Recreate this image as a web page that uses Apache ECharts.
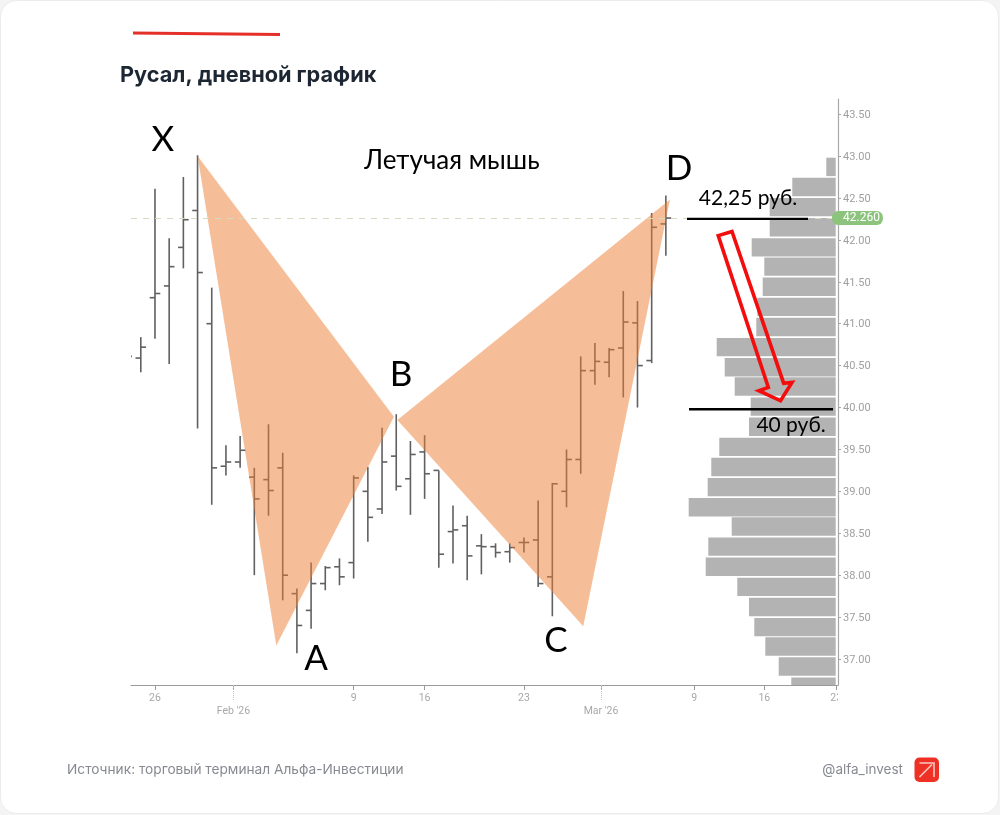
<!DOCTYPE html>
<html><head><meta charset="utf-8">
<style>html,body{margin:0;padding:0;background:#fff}#c{width:1000px;height:815px}</style>
<script src="https://cdn.jsdelivr.net/npm/echarts@6/dist/echarts.min.js"></script>
</head><body><div id="c"></div>
<script>
// x = trading-session index, Jan 26 = 0
const barIndex = [-2,-1,0,1,2,3,4,5,6,7,8,9,10,11,12,13,14,15,16,17,18,19,20,21,22,23,24,25,26,27,28,29,30,31,32,33,34,35,36];
const opens  = [40.61,40.59,41.31,41.45,41.91,42.35,41.00,39.30,39.35,39.17,39.14,39.28,37.78,37.58,37.90,38.10,38.15,39.00,38.79,39.42,39.15,39.47,39.25,38.52,38.59,38.35,38.34,38.28,38.39,38.42,37.98,39.00,39.38,40.44,40.54,40.71,41.01,40.56,42.19];
const highs  = [40.61,40.84,42.61,42.02,42.75,43.01,41.43,39.55,39.66,39.28,39.80,39.46,37.84,38.15,38.11,38.20,39.19,39.29,39.76,39.92,39.60,39.67,39.25,38.83,38.71,38.49,38.38,38.38,38.45,38.89,39.10,39.50,40.61,40.77,40.71,41.39,41.27,42.32,42.53];
const lows   = [40.61,40.42,40.82,40.52,41.66,39.75,38.84,39.19,39.28,38.00,38.71,37.70,37.07,37.36,37.82,37.88,37.96,38.40,38.73,39.01,38.72,38.91,38.09,38.14,37.94,38.01,38.21,38.15,38.27,37.86,37.51,38.81,39.21,40.27,40.36,40.12,40.00,40.53,41.81];
const closes = [40.61,40.72,41.36,41.68,42.24,41.61,39.28,39.35,39.49,38.91,39.01,38.00,37.40,37.90,38.09,37.98,39.16,38.69,39.35,39.06,39.44,39.21,38.25,38.54,38.23,38.34,38.27,38.33,38.39,37.90,39.09,39.38,40.44,40.55,40.69,41.02,40.50,42.15,42.26];

const profilePrices  = [42.87,42.63,42.39,42.15,41.91,41.68,41.44,41.20,40.96,40.72,40.48,40.25,40.01,39.77,39.53,39.29,39.05,38.81,38.58,38.34,38.10,37.86,37.62,37.38,37.15,36.91,36.67];
const profileVolumes = [9.4,43.4,66,66,84,71.4,73,78.4,79.4,119,111,101,85,86.7,116.4,124.4,128,147,104,127.4,130,98.4,86.7,81.4,70.4,57,44.4];

const patternXAB = [[3.0,43.0],[8.55,37.16],[16.84,39.89]];
const patternBCD = [[17.08,39.85],[30.18,37.39],[36.29,42.48]];
const arrowPoints = [[39.69,42.05],[40.66,42.10],[44.30,40.29],[44.89,40.30],[44.08,40.08],[42.55,40.20],[43.22,40.24]];
const levelLines = [[[37.49,42.25],[46.02,42.25]],[[37.63,39.98],[47.78,39.98]]];
const textNotes = [
  ['X',0.56,43.20,35],['A',11.35,37.0,35],['B',17.34,40.39,35],['C',28.26,37.22,35],['D',36.93,42.85,35],
  ['Летучая мышь',20.93,42.95,26],['42,25 руб.',41.79,42.5,21],['40 руб.',44.82,39.79,21]
];
const lastPrice = 42.26;
const priceTicks = [37,37.5,38,38.5,39,39.5,40,40.5,41,41.5,42,42.5,43,43.5];
const dateTicks = [0,5.53,14,19,26,31.43,38,42.94,48];
const dateLabels = ['26',"\nFeb '26",'9','16','23',"\nMar '26",'9','16','23'];
const monthTicks = [5.53,31.43];

const xMin=-1.69, xMax=48.13, yMin=36.69, yMax=43.68;
const noteFont='Lato, "Noto Sans", sans-serif';
const ui='Inter, "Noto Sans", sans-serif';

const chart=echarts.init(document.getElementById('c'),null,{renderer:'canvas'});
function poly(points,z){
  return {type:'custom',xAxisIndex:0,yAxisIndex:0,coordinateSystem:'cartesian2d',clip:true,z:z,silent:true,
    data:[0],encode:{x:[],y:[]},
    renderItem:(p,api)=>({type:'polygon',shape:{points:points.map(q=>api.coord(q))},style:{fill:'#ed7d31',opacity:0.5}})};
}
chart.setOption({
  animation:false,
  backgroundColor:'#f4f4f5',
  grid:{left:131,right:162,top:99,bottom:130,containLabel:false},
  xAxis:[
    {type:'value',min:xMin,max:xMax,splitLine:{show:false},
     axisLine:{onZero:false,lineStyle:{color:'#9a9a9a',width:1.2}},
     axisTick:{show:true,customValues:dateTicks,length:5,lineStyle:{color:'#9a9a9a'}},
     axisLabel:{show:true,customValues:dateTicks,color:'#a8a8a8',fontFamily:'Roboto',fontSize:10.5,lineHeight:13,margin:7,hideOverlap:false,
       formatter:v=>dateLabels[dateTicks.indexOf(v)]}},
    {type:'value',min:xMin,max:xMax,position:'bottom',splitLine:{show:false},axisLine:{show:false},
     axisLabel:{show:false},axisTick:{show:true,customValues:monthTicks,length:15,lineStyle:{color:'#c4c4c4',type:'dotted'}}},
    {type:'value',inverse:true,min:-2.3,max:704.7,show:false,splitLine:{show:false}}
  ],
  yAxis:[{type:'value',position:'right',min:yMin,max:yMax,splitLine:{show:false},
    axisLine:{show:true,onZero:false,lineStyle:{color:'#a8a8a8',width:1.2}},
    axisTick:{show:true,customValues:priceTicks,length:3,lineStyle:{color:'#a8a8a8'}},
    axisLabel:{customValues:priceTicks,color:'#a0a0a0',fontFamily:'Roboto',fontSize:11,margin:5,formatter:v=>'{a|'+v.toFixed(2)+'}',
      rich:{a:{color:'#a0a0a0',fontFamily:'Roboto',fontSize:11,padding:[2,0,0,0]}}}}],
  graphic:[
    {type:'rect',z:-10,shape:{x:0.5,y:0.5,width:998,height:813,r:16},style:{fill:'#fff',stroke:'#ececee',lineWidth:1}},
    {type:'line',z:10,shape:{x1:133,y1:33,x2:280,y2:34.5},style:{stroke:'#e5302a',lineWidth:3}},
    {type:'text',z:10,x:120,y:75,style:{text:'Русал, дневной график',fill:'#1d2733',font:'700 21.7px '+ui,textVerticalAlign:'middle'}},
    {type:'text',z:10,x:67,y:770,style:{text:'Источник: торговый терминал Альфа-Инвестиции',fill:'#878a90',font:'400 13.7px '+ui,textVerticalAlign:'middle'}},
    {type:'text',z:10,x:903,y:770,style:{text:'@alfa_invest',fill:'#878a90',font:'400 13.5px '+ui,textAlign:'right',textVerticalAlign:'middle'}},
    {type:'rect',z:10,shape:{x:914.5,y:757.5,width:24.5,height:24.5,r:5},style:{fill:'#ee3124'}},
    {type:'polyline',z:11,shape:{points:[[919.5,763],[934,763],[934,777]]},style:{stroke:'#f8c9c4',lineWidth:1.6,fill:'none'}},
    {type:'line',z:11,shape:{x1:919.5,y1:777,x2:932,y2:764.5},style:{stroke:'#f8c9c4',lineWidth:1.6}},
    {type:'rect',z:100,shape:{x:838,y:690,width:14,height:14},style:{fill:'#fff'}}
  ],
  series:[
    {type:'custom',name:'Profile',xAxisIndex:2,yAxisIndex:0,clip:true,z:2,silent:true,
     data:profilePrices.map((p,i)=>[profileVolumes[i],p]),encode:{x:0,y:1},
     renderItem:(p,api)=>{const a=api.coord([api.value(0),api.value(1)]),b=api.coord([0,api.value(1)]);
       return {type:'rect',shape:{x:a[0],y:a[1]-9.2,width:b[0]-a[0],height:18.4},style:{fill:'#b3b3b3'}};}},
    {type:'custom',name:'Price',xAxisIndex:0,yAxisIndex:0,clip:true,z:3,silent:true,
     data:barIndex.map((x,i)=>[x,opens[i],highs[i],lows[i],closes[i]]),encode:{x:0,y:[1,2,3,4]},
     markLine:{silent:true,symbol:'none',animation:false,
       lineStyle:{color:'#d3dcc0',type:[6,6],width:1},
       label:{show:true,position:'end',distance:-6,formatter:()=>lastPrice.toFixed(3),color:'#fff',fontFamily:'Roboto',fontSize:12,
              backgroundColor:'#8cc47e',borderRadius:6,padding:[1,3,1,11]},
       data:[{yAxis:lastPrice}]},
     renderItem:(p,api)=>{const x=api.value(0),s=api.coord([x,0])[0],y=v=>api.coord([x,v])[1];
       const st={stroke:'#606060',lineWidth:1.6};
       return {type:'group',children:[
         {type:'line',shape:{x1:s,x2:s,y1:y(api.value(2)),y2:y(api.value(3))},style:st},
         {type:'line',shape:{x1:s-5.3,x2:s,y1:y(api.value(1)),y2:y(api.value(1))},style:st},
         {type:'line',shape:{x1:s,x2:s+5.3,y1:y(api.value(4)),y2:y(api.value(4))},style:st}]};}},
    poly(patternXAB,4),
    poly(patternBCD,4),
    {type:'custom',name:'Levels',xAxisIndex:0,yAxisIndex:0,clip:true,z:5,silent:true,data:levelLines.map((_,i)=>[i]),encode:{x:[],y:[]},
     renderItem:(p,api)=>{const l=levelLines[p.dataIndex],a=api.coord(l[0]),b=api.coord(l[1]);
       return {type:'line',shape:{x1:a[0],y1:a[1],x2:b[0],y2:b[1]},style:{stroke:'#000',lineWidth:2.4}};}},
    {type:'custom',name:'Arrow',xAxisIndex:0,yAxisIndex:0,clip:true,z:6,silent:true,data:[0],encode:{x:[],y:[]},
     renderItem:(p,api)=>({type:'polygon',shape:{points:arrowPoints.map(q=>api.coord(q))},style:{fill:'none',stroke:'#f30d0d',lineWidth:3.6,lineJoin:'miter'}})},
    {type:'custom',name:'Notes',xAxisIndex:0,yAxisIndex:0,clip:false,z:7,silent:true,data:textNotes.map((_,i)=>[i]),encode:{x:[],y:[]},
     renderItem:(p,api)=>{const n=textNotes[p.dataIndex],c=api.coord([n[1],n[2]]);
       return {type:'text',x:c[0],y:c[1],style:{text:n[0],fill:'#000',font:'400 '+n[3]+'px '+noteFont,textAlign:'center',textVerticalAlign:'middle'}};}}
  ]
});
</script></body></html>
